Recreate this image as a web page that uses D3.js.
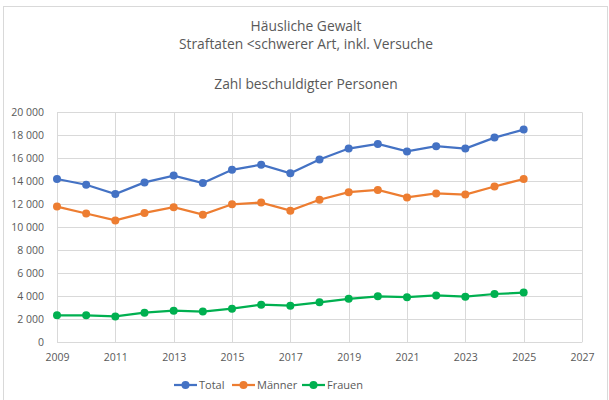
<!DOCTYPE html>
<html>
<head>
<meta charset="utf-8">
<script src="https://cdn.jsdelivr.net/npm/d3@7"></script>
<style>
  body { margin: 0; background: #fff; }
  text { font-family: "Open Sans", "Noto Sans", sans-serif; fill: #595959; }
</style>
</head>
<body>
<script>
// data
var years = [2009, 2010, 2011, 2012, 2013, 2014, 2015, 2016, 2017, 2018, 2019, 2020, 2021, 2022, 2023, 2024, 2025];
var total = [14200, 13700, 12900, 13900, 14500, 13850, 15000, 15450, 14700, 15900, 16850, 17250, 16600, 17050, 16850, 17800, 18500];
var maenner = [11800, 11200, 10600, 11250, 11750, 11100, 12000, 12150, 11450, 12400, 13050, 13250, 12600, 12950, 12850, 13550, 14200];
var frauen = [2350, 2350, 2250, 2580, 2750, 2670, 2920, 3270, 3180, 3480, 3780, 4000, 3920, 4080, 3970, 4200, 4320];
var seriesNames = ["Total", "Männer", "Frauen"];
var seriesColors = ["#4472C4", "#ED7D31", "#00B050"];
var titleLines = ["Häusliche Gewalt", "Straftaten <schwerer Art, inkl. Versuche", "Zahl beschuldigter Personen"];
var xTicks = [2009, 2011, 2013, 2015, 2017, 2019, 2021, 2023, 2025, 2027];
var yTicks = [0, 2000, 4000, 6000, 8000, 10000, 12000, 14000, 16000, 18000, 20000];

var width = 609, height = 400;
var plot = { left: 57, right: 582, top: 112.3, bottom: 342.3 };

var svg = d3.select("body").append("svg")
    .attr("width", width)
    .attr("height", height);

// outer chart frame
svg.append("rect")
    .attr("x", 3.5).attr("y", 6.5)
    .attr("width", 604).attr("height", 400)
    .attr("fill", "none")
    .attr("stroke", "#d9d9d9");

var x = d3.scaleLinear().domain([2009, 2027]).range([plot.left, plot.right]);
var y = d3.scaleLinear().domain([0, 20000]).range([plot.bottom, plot.top]);

// gridlines
svg.append("g").selectAll("line").data(yTicks).enter().append("line")
    .attr("x1", plot.left).attr("x2", plot.right)
    .attr("y1", function(d){ return Math.round(y(d)) + 0.5; })
    .attr("y2", function(d){ return Math.round(y(d)) + 0.5; })
    .attr("stroke", "#d9d9d9");

svg.append("g").selectAll("line").data(xTicks).enter().append("line")
    .attr("y1", plot.top).attr("y2", plot.bottom)
    .attr("x1", function(d){ return Math.round(x(d)) + 0.5; })
    .attr("x2", function(d){ return Math.round(x(d)) + 0.5; })
    .attr("stroke", "#d9d9d9");

// axes labels, space as thousands separator
var fmt = function(d){ return d3.format(",")(d).replace(",", " "); };

var yAxis = svg.append("g")
    .attr("transform", "translate(" + (plot.left - 10) + ",0)")
    .call(d3.axisLeft(y).tickValues(yTicks).tickSize(0).tickFormat(fmt));
yAxis.select(".domain").remove();
yAxis.selectAll("text").attr("font-size", 10.5).attr("fill", "#595959")
    .style("font-family", "Open Sans, sans-serif")
    .style("white-space", "pre");

var xAxis = svg.append("g")
    .attr("transform", "translate(0," + (plot.bottom + 8) + ")")
    .call(d3.axisBottom(x).tickValues(xTicks).tickSize(0).tickFormat(d3.format("d")));
xAxis.select(".domain").remove();
xAxis.selectAll("text").attr("font-size", 10.5).attr("fill", "#595959")
    .style("font-family", "Open Sans, sans-serif");

// title
svg.append("g").selectAll("text").data(titleLines).enter().append("text")
    .attr("x", 306)
    .attr("y", function(d, i){ return [31, 49, 89][i]; })
    .attr("text-anchor", "middle")
    .attr("font-size", 13.8)
    .text(function(d){ return d; });

// series
var allSeries = [total, maenner, frauen];
var line = d3.line()
    .x(function(d, i){ return x(years[i]); })
    .y(function(d){ return y(d); });

allSeries.forEach(function(vals, s){
  var g = svg.append("g");
  g.append("path")
      .datum(vals)
      .attr("d", line)
      .attr("fill", "none")
      .attr("stroke", seriesColors[s])
      .attr("stroke-width", 2.25);
  g.selectAll("circle").data(vals).enter().append("circle")
      .attr("cx", function(d, i){ return x(years[i]); })
      .attr("cy", function(d){ return y(d); })
      .attr("r", 4)
      .attr("fill", seriesColors[s]);
});

// legend
var legendX = [174, 232, 302];
var lg = svg.append("g").attr("transform", "translate(0,385)");
seriesNames.forEach(function(name, s){
  var item = lg.append("g").attr("transform", "translate(" + legendX[s] + ",0)");
  item.append("line")
      .attr("x1", 0).attr("x2", 23)
      .attr("stroke", seriesColors[s]).attr("stroke-width", 2.25);
  item.append("circle").attr("cx", 11.5).attr("r", 4).attr("fill", seriesColors[s]);
  item.append("text")
      .attr("x", 25).attr("y", 4)
      .attr("font-size", 11)
      .text(name);
});
</script>
</body>
</html>
